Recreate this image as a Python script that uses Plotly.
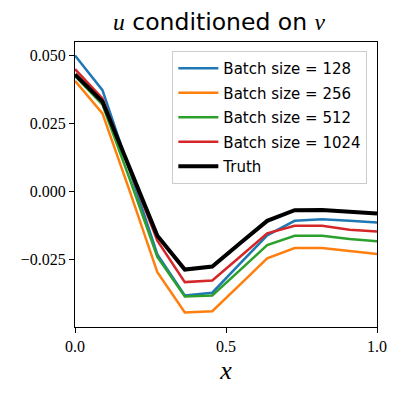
import plotly.graph_objects as go

# 12 equally spaced points on [0, 1]
X = [0.0, 0.0909, 0.1818, 0.2727, 0.3636, 0.4545, 0.5455, 0.6364, 0.7273, 0.8182, 0.9091, 1.0]

BATCH_128 = [0.0500, 0.0373, 0.0075, -0.0230, -0.0381, -0.0371, -0.0265, -0.0160, -0.0107, -0.0101, -0.0107, -0.0113]
BATCH_256 = [0.0407, 0.0288, 0.0000, -0.0296, -0.0444, -0.0439, -0.0342, -0.0245, -0.0207, -0.0207, -0.0218, -0.0229]
BATCH_512 = [0.0425, 0.0320, 0.0045, -0.0240, -0.0385, -0.0381, -0.0289, -0.0196, -0.0162, -0.0162, -0.0174, -0.0182]
BATCH_1024 = [0.0450, 0.0343, 0.0080, -0.0180, -0.0332, -0.0326, -0.0240, -0.0153, -0.0125, -0.0125, -0.0140, -0.0146]
TRUTH = [0.0431, 0.0331, 0.0085, -0.0162, -0.0286, -0.0275, -0.0190, -0.0107, -0.0068, -0.0067, -0.0074, -0.0080]

SERIES = [
    ("Batch size = 128", BATCH_128, "#1f77b4", 2.5),
    ("Batch size = 256", BATCH_256, "#ff7f0e", 2.5),
    ("Batch size = 512", BATCH_512, "#2ca02c", 2.5),
    ("Batch size = 1024", BATCH_1024, "#d62728", 2.5),
    ("Truth", TRUTH, "#000000", 4),
]

X_TICKS = [0.0, 0.5, 1.0]
X_TICK_TEXT = ["0.0", "0.5", "1.0"]
Y_TICKS = [0.050, 0.025, 0.0, -0.025]
Y_TICK_TEXT = ["0.050", "0.025", "0.000", "\u22120.025"]

SANS = "DejaVu Sans, sans-serif"
SERIF = "Liberation Serif, DejaVu Serif, serif"

fig = go.Figure()
for name, ys, color, width in SERIES:
    fig.add_trace(go.Scatter(
        x=X, y=ys, mode="lines", name=name, legendgroup=name,
        line=dict(color=color, width=width),
    ))

axis_common = dict(
    showline=True, linecolor="black", linewidth=1.2, mirror=True,
    ticks="outside", ticklen=5, tickcolor="black", tickwidth=1.2,
    showgrid=False, zeroline=False, automargin=False,
    tickfont=dict(family=SERIF, size=16, color="black"),
)

# page body has an 8px margin, so the figure is sized to the visible area
fig.update_layout(
    width=391, height=387,
    margin=dict(l=67, r=22, t=34, b=68),
    paper_bgcolor="white", plot_bgcolor="white",
    title=dict(
        text="<i><span style='font-family:Liberation Serif'>u</span></i> conditioned on "
             "<i><span style='font-family:Liberation Serif'>v</span></i>",
        font=dict(family=SANS, size=23.5, color="black"),
        xref="paper", x=0.477, xanchor="center",
        yref="container", y=0.964, yanchor="middle",
    ),
    xaxis=dict(
        range=[0, 1], tickvals=X_TICKS, ticktext=X_TICK_TEXT,
        title=dict(text="<i>x</i>", font=dict(family=SERIF, size=26, color="black"), standoff=6),
        **axis_common,
    ),
    yaxis=dict(
        range=[-0.0497, 0.0550], tickvals=Y_TICKS, ticktext=Y_TICK_TEXT,
        **axis_common,
    ),
    showlegend=True,
    legend=dict(
        x=0.968, xanchor="right", y=0.968, yanchor="top",
        bgcolor="rgba(255,255,255,0.8)", bordercolor="#cccccc", borderwidth=1,
        font=dict(family=SANS, size=15, color="black"),
        tracegroupgap=2, itemwidth=40,
    ),
)

fig.write_html("out.html")
